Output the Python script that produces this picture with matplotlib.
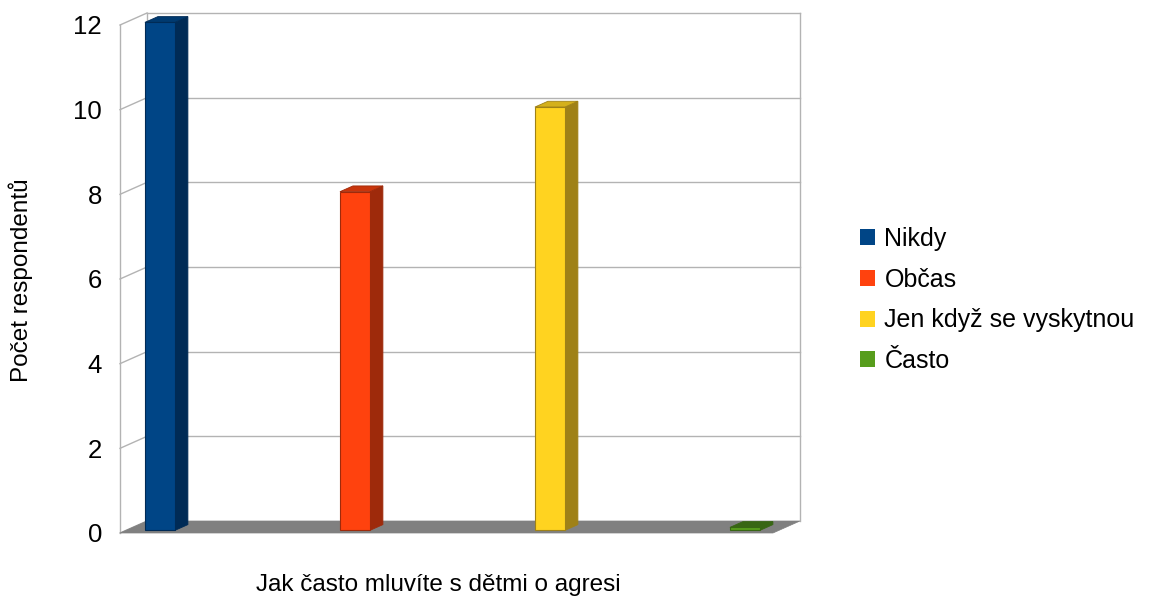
import matplotlib
matplotlib.use("Agg")
import matplotlib.pyplot as plt
from matplotlib.patches import Polygon, Patch

# ---- data ----
categories = ["Nikdy", "Občas", "Jen když se vyskytnou", "Často"]
values = [12, 8, 10, 0]
yticks = [0, 2, 4, 6, 8, 10, 12]
front_colors = ["#004586", "#ff420e", "#ffd320", "#579d1c"]
side_colors = ["#002b56", "#9e2a0b", "#9f8117", "#386614"]
top_colors = ["#003a70", "#c8350c", "#d4b01b", "#3f7417"]
xlabel = "Jak často mluvíte s dětmi o agresi"
ylabel = "Počet respondentů"

plt.rcParams['font.family'] = ['Liberation Sans', 'DejaVu Sans']

W, H, DPI = 1152, 599, 100
fig = plt.figure(figsize=(W / DPI, H / DPI), dpi=DPI)

# front plane of the 3D box in pixels
px_left, px_right, px_y0, px_y12 = 120, 773, 533, 25
ax = fig.add_axes([px_left / W, (H - px_y0) / H,
                   (px_right - px_left) / W, (px_y0 - px_y12) / H])
unit_px = 195.0
x0 = -34 / unit_px
x1 = x0 + (px_right - px_left) / unit_px
ymax = 12
ax.set_xlim(x0, x1)
ax.set_ylim(0, ymax)

# depth vector (data units) for the full wall depth
DX = 27 / unit_px
DY = 12 * ymax / (px_y0 - px_y12)


def P(x, y, d):
    return (x + d * DX, y + d * DY)


grid_c = "#b3b3b3"
# floor
floor = Polygon([P(x0, 0, 0), P(x1, 0, 0), P(x1, 0, 1), P(x0, 0, 1)],
                closed=True, facecolor="#808080", edgecolor="#808080",
                lw=0.5, clip_on=False, zorder=1)
ax.add_patch(floor)
# back wall grid lines and left wall slanted lines
for t in yticks:
    if t > 0:
        xa, ya = P(x0, t, 1)
        xb, yb = P(x1, t, 1)
        ax.plot([xa, xb], [ya, yb], color=grid_c, lw=1, clip_on=False, zorder=0.5)
    xa, ya = P(x0, t, 0)
    xb, yb = P(x0, t, 1)
    ax.plot([xa, xb], [ya, yb], color=grid_c, lw=1, clip_on=False, zorder=0.5)
# vertical edges
for (xx, d) in [(x0, 0), (x0, 1), (x1, 1)]:
    xa, ya = P(xx, 0, d)
    xb, yb = P(xx, ymax, d)
    ax.plot([xa, xb], [ya, yb], color=grid_c, lw=1, clip_on=False, zorder=0.5)

# bars
bw = 30 / unit_px
f0, f1 = 0.22, 0.70
min_thick = 0.07
for i, v in enumerate(values):
    xl, xr = i - bw / 2, i + bw / 2
    h = v if v > 0 else min_thick
    side = Polygon([P(xr, 0, f0), P(xr, 0, f1), P(xr, h, f1), P(xr, h, f0)],
                   closed=True, facecolor=side_colors[i], edgecolor=side_colors[i],
                   lw=0.6, clip_on=False, zorder=3)
    top = Polygon([P(xl, h, f0), P(xr, h, f0), P(xr, h, f1), P(xl, h, f1)],
                  closed=True, facecolor=top_colors[i] if v > 0 else side_colors[i],
                  edgecolor=side_colors[i], lw=0.6, clip_on=False, zorder=3)
    front = Polygon([P(xl, 0, f0), P(xr, 0, f0), P(xr, h, f0), P(xl, h, f0)],
                    closed=True, facecolor=front_colors[i], edgecolor=side_colors[i],
                    lw=0.8, clip_on=False, zorder=4)
    ax.add_patch(side)
    ax.add_patch(top)
    ax.add_patch(front)

# axes styling
for s in ax.spines.values():
    s.set_visible(False)
ax.set_facecolor("none")
ax.set_xticks([])
ax.set_yticks(yticks)
ax.set_yticklabels([str(t) for t in yticks], fontsize=18.5)
ax.tick_params(axis='y', length=0, pad=13)

fig.text(438 / W, 1 - 585 / H, xlabel, ha='center', va='center', fontsize=17.5)
fig.text(21 / W, 1 - 280 / H, ylabel, ha='center', va='center', rotation=90, fontsize=17.5)

handles = [Patch(facecolor=c, edgecolor='none') for c in front_colors]
fig.legend(handles, categories, loc='center left',
           bbox_to_anchor=(837 / W, 1 - 300 / H), frameon=False,
           fontsize=18, handlelength=0.6, handleheight=0.6,
           handletextpad=0.4, labelspacing=0.67)

fig.savefig("out.png", dpi=DPI)
